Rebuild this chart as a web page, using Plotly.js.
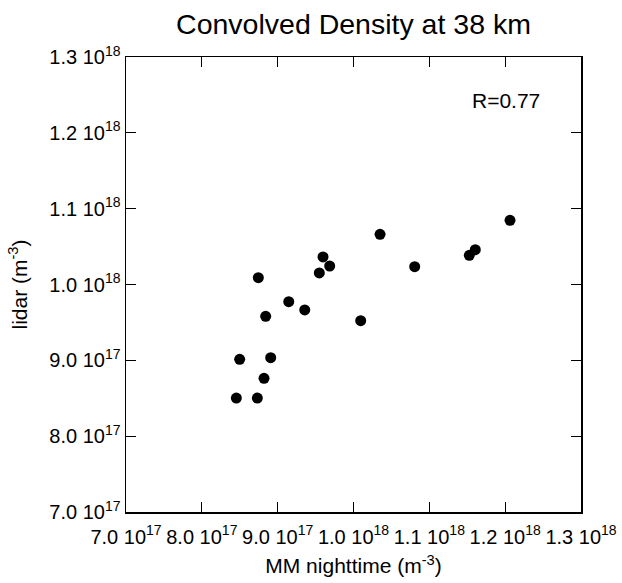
<!DOCTYPE html>
<html>
<head>
<meta charset="utf-8">
<script src="https://cdn.plot.ly/plotly-3.0.1.min.js"></script>
<style>html,body{margin:0;padding:0;background:#fff;}</style>
</head>
<body>
<div id="chart" style="width:622px;height:583px;"></div>
<script>
// MM nighttime density (m^-3)
const mmNight = [1.2064e18, 1.035e18, 1.1606e18, 1.1527e18, 0.9598e18, 0.9686e18, 0.9549e18, 1.0807e18, 0.8745e18,
                 0.9146e18, 0.9357e18, 0.8842e18, 1.0095e18, 0.8499e18, 0.8908e18, 0.882e18, 0.8455e18, 0.8732e18];
// lidar density (m^-3)
const lidar = [1.0846e18, 1.0662e18, 1.0459e18, 1.0385e18, 1.0363e18, 1.0244e18, 1.0152e18, 1.0235e18, 1.009e18,
               0.9773e18, 0.9664e18, 0.9581e18, 0.9523e18, 0.9013e18, 0.9035e18, 0.8763e18, 0.8503e18, 0.8503e18];
const tickVals = [7.0e17, 8.0e17, 9.0e17, 1.0e18, 1.1e18, 1.2e18, 1.3e18];
const tickText = ['7.0 10<sup>17</sup>', '8.0 10<sup>17</sup>', '9.0 10<sup>17</sup>', '1.0 10<sup>18</sup>',
                  '1.1 10<sup>18</sup>', '1.2 10<sup>18</sup>', '1.3 10<sup>18</sup>'];
const corrLabel = 'R=0.77';

const font = 'Liberation Sans, Arial, Helvetica, sans-serif';
const axisCommon = {
  range: [7.0e17, 1.3e18],
  tickmode: 'array', tickvals: tickVals, ticktext: tickText,
  ticks: 'inside', ticklen: 10, tickwidth: 1, tickcolor: '#000',
  showline: true, linecolor: '#000', linewidth: 1.5, mirror: 'ticks',
  showgrid: false, zeroline: false,
  tickfont: {family: font, size: 20, color: '#000'}
};

Plotly.newPlot('chart', [{
  x: mmNight, y: lidar, type: 'scatter', mode: 'markers',
  marker: {color: '#000', size: 11}
}], {
  width: 622, height: 583,
  margin: {l: 126, r: 41, t: 57, b: 71},
  paper_bgcolor: '#fff', plot_bgcolor: '#fff',
  showlegend: false,
  title: {text: 'Convolved Density at 38 km', font: {family: font, size: 28.5, color: '#000'},
          x: 0.5, xref: 'paper', y: 0.958, yref: 'container', yanchor: 'middle'},
  xaxis: Object.assign({}, axisCommon, {
    ticklabelstandoff: 6,
    title: {text: 'MM nighttime (m<sup>-3</sup>)', font: {family: font, size: 21, color: '#000'}, standoff: 12}
  }),
  yaxis: Object.assign({}, axisCommon, {
    title: {text: 'lidar (m<sup>-3</sup>)', font: {family: font, size: 21, color: '#000'}, standoff: 16}
  }),
  annotations: [{
    text: corrLabel, xref: 'paper', yref: 'paper', x: 0.915, y: 0.905,
    xanchor: 'right', yanchor: 'middle', showarrow: false,
    font: {family: font, size: 21, color: '#000'}
  }]
}, {displayModeBar: false, staticPlot: true});
</script>
</body>
</html>
